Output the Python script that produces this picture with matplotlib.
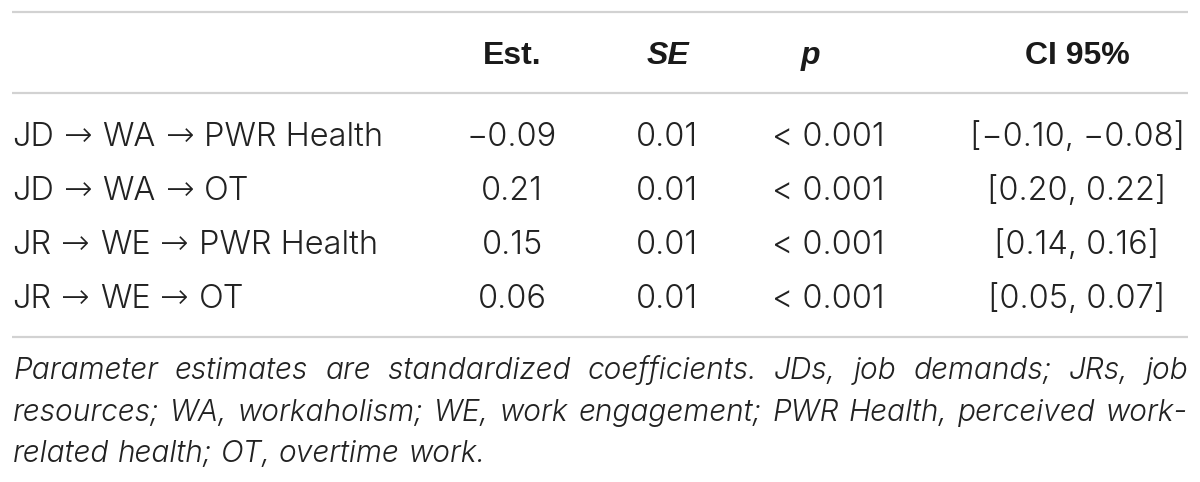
import matplotlib
matplotlib.use("Agg")
import matplotlib.pyplot as plt

# Table content
paths = [["JD", "WA", "PWR Health"], ["JD", "WA", "OT"],
         ["JR", "WE", "PWR Health"], ["JR", "WE", "OT"]]
est = [-0.09, 0.21, 0.15, 0.06]
se = [0.01, 0.01, 0.01, 0.01]
p_vals = ["< 0.001", "< 0.001", "< 0.001", "< 0.001"]
ci_low = [-0.10, 0.20, 0.14, 0.05]
ci_high = [-0.08, 0.22, 0.16, 0.07]
headers = ["Est.", "SE", "p", "CI 95%"]
note_lines = [
    "Parameter estimates are standardized coefficients. JDs, job demands; JRs, job",
    "resources; WA, workaholism; WE, work engagement; PWR Health, perceived work-",
    "related health; OT, overtime work.",
]

fams = ["Inter", "DejaVu Sans"]
LIGHT = 300
INK = "#222222"
ARROW = "\u2192"


def fmt(v):
    return f"{v:.2f}".replace("-", "\u2212")


fig = plt.figure(figsize=(12, 4.82), dpi=100)
ax = fig.add_axes([0, 0, 1, 1])
ax.set_xlim(0, 1200)
ax.set_ylim(482, 0)
ax.axis("off")
renderer = fig.canvas.get_renderer()


def width_of(s, size, **kw):
    t = ax.text(0, 0, s, fontsize=size, **kw)
    w = t.get_window_extent(renderer).width
    t.remove()
    return w


# fit font sizes to the widths seen in the reference
body = 20 * 215 / width_of(f"[{fmt(-0.10)}, {fmt(-0.08)}]", 20,
                           family=fams, fontweight=LIGHT)
note_size = 20 * 473 / width_of(note_lines[2], 20, family=fams,
                                fontweight=LIGHT, fontstyle="italic")

rule = dict(color="#d2d2d2", lw=1.6, solid_capstyle="butt")
for y in [12, 93, 337]:
    ax.plot([12, 1188], [y, y], **rule)

col_x = [512, 667, 828, 1077]
head_x = [512, 668, 810, 1077]
head_style = ["normal", "italic", "italic", "normal"]

for x, h, st in zip(head_x, headers, head_style):
    ax.text(x, 64, h, ha="center", va="baseline", fontsize=23,
            fontweight="bold", fontstyle=st,
            family=["Liberation Sans", "DejaVu Sans"], color="#1a1a1a")

arrow_kw = dict(family=["DejaVu Sans"], fontweight=200, fontsize=body * 1.05)
gap = 10
row_y = [146, 200, 254, 308]
for i, y in enumerate(row_y):
    # path label: words in Inter, long thin arrows between them
    x = 12
    for j, part in enumerate(paths[i]):
        t = ax.text(x, y, part, ha="left", va="baseline", fontsize=body,
                    fontweight=LIGHT, family=fams, color=INK)
        x += t.get_window_extent(renderer).width + gap
        if j < len(paths[i]) - 1:
            a = ax.text(x, y, ARROW, ha="left", va="baseline", color=INK, **arrow_kw)
            x += a.get_window_extent(renderer).width + gap
    cells = [fmt(est[i]), f"{se[i]:.2f}", p_vals[i],
             f"[{fmt(ci_low[i])}, {fmt(ci_high[i])}]"]
    for x, c in zip(col_x, cells):
        ax.text(x, y, c, ha="center", va="baseline", fontsize=body,
                fontweight=LIGHT, family=fams, color=INK)

# footnote, justified like the journal layout
left, right = 13, 1188
sp = width_of("a a", note_size, family=fams, fontweight=LIGHT, fontstyle="italic") - \
    width_of("aa", note_size, family=fams, fontweight=LIGHT, fontstyle="italic")
for k, (line, y) in enumerate(zip(note_lines, [379, 421, 462])):
    words = line.split(" ")
    items = [ax.text(0, y, w, ha="left", va="baseline", fontsize=note_size,
                     fontstyle="italic", fontweight=LIGHT, family=fams, color=INK)
             for w in words]
    widths = [t.get_window_extent(renderer).width for t in items]
    if k < len(note_lines) - 1:
        g = (right - left - sum(widths)) / (len(words) - 1)
    else:
        g = sp
    x = left
    for t, w in zip(items, widths):
        t.set_x(x)
        x += w + g

fig.savefig("out.png", dpi=100, facecolor="white")
